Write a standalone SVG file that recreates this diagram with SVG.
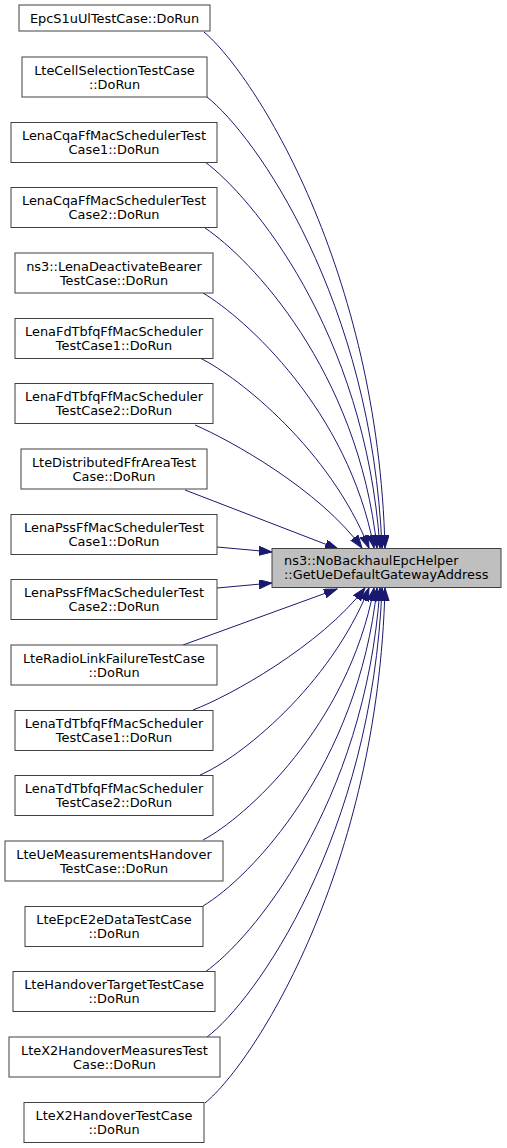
<svg xmlns="http://www.w3.org/2000/svg" width="507" height="1148" viewBox="0 0 507 1148">
<style>
  .node rect { fill: #ffffff; stroke: #404040; stroke-width: 1; }
  .target rect { fill: #bfbfbf; stroke: #404040; stroke-width: 1; }
  text { font-family: "DejaVu Sans", "Liberation Sans", sans-serif; font-size: 12.9px; fill: #000000; }
  .node text { text-anchor: middle; }
  .edges path { fill: none; stroke: #191970; stroke-width: 1; marker-end: url(#arrow); }
</style>
<defs>
  <marker id="arrow" markerUnits="userSpaceOnUse" markerWidth="14" markerHeight="10" refX="13" refY="4.5" orient="auto" viewBox="0 0 14 10">
    <polygon points="0,0 13,4.5 0,9" fill="#191970" stroke="#191970" stroke-width="1"/>
  </marker>
</defs>
<rect width="507" height="1148" fill="#ffffff"/>
<g class="edges" id="edges">
  <path d="M204,32 C255,75 378,270 385,548"/>
  <path d="M207,97 C255,135 372,300 382,548"/>
  <path d="M205,162 C250,195 365,330 380,548"/>
  <path d="M205,228 C250,258 358,370 377,548"/>
  <path d="M203,293 C245,318 348,410 374,548"/>
  <path d="M200,358 C240,378 330,450 369,548"/>
  <path d="M195,425 C230,440 320,490 362,548"/>
  <path d="M185,490 L338,549"/>
  <path d="M217,547 L272,552"/>
  <path d="M217,588 L272,583"/>
  <path d="M183,645 L337,589"/>
  <path d="M193,710 C230,696 320,646 365,588"/>
  <path d="M200,775 C240,758 330,686 369,588"/>
  <path d="M203,840 C245,818 348,726 374,588"/>
  <path d="M203,906 C250,878 358,766 377,588"/>
  <path d="M205,972 C250,941 365,806 380,588"/>
  <path d="M207,1037 C255,1001 372,836 382,588"/>
  <path d="M205,1103 C256,1061 378,866 385,588"/>
</g>
<g class="target" id="node0">
  <rect x="272" y="548.5" width="229" height="39"/>
  <text x="284" y="565">ns3::NoBackhaulEpcHelper</text>
  <text x="284" y="579">::GetUeDefaultGatewayAddress</text>
</g>
<g class="node" id="node1">
  <rect x="19" y="5" width="191" height="26"/>
  <text x="114.5" y="22.5">EpcS1uUlTestCase::DoRun</text>
</g>
<g class="node" id="node2">
  <rect x="22" y="57" width="185" height="40"/>
  <text x="114.5" y="74.5">LteCellSelectionTestCase</text>
  <text x="114.5" y="88.5">::DoRun</text>
</g>
<g class="node" id="node3">
  <rect x="11" y="122.5" width="206" height="40"/>
  <text x="114" y="140">LenaCqaFfMacSchedulerTest</text>
  <text x="114" y="154">Case1::DoRun</text>
</g>
<g class="node" id="node4">
  <rect x="11" y="187.5" width="206" height="40"/>
  <text x="114" y="205">LenaCqaFfMacSchedulerTest</text>
  <text x="114" y="219">Case2::DoRun</text>
</g>
<g class="node" id="node5">
  <rect x="15" y="253" width="198" height="40"/>
  <text x="114" y="270.5">ns3::LenaDeactivateBearer</text>
  <text x="114" y="284.5">TestCase::DoRun</text>
</g>
<g class="node" id="node6">
  <rect x="15" y="318.5" width="198" height="40"/>
  <text x="114" y="336">LenaFdTbfqFfMacScheduler</text>
  <text x="114" y="350">TestCase1::DoRun</text>
</g>
<g class="node" id="node7">
  <rect x="15" y="383.5" width="198" height="40"/>
  <text x="114" y="401">LenaFdTbfqFfMacScheduler</text>
  <text x="114" y="415">TestCase2::DoRun</text>
</g>
<g class="node" id="node8">
  <rect x="21" y="449" width="186" height="40"/>
  <text x="114" y="466.5">LteDistributedFfrAreaTest</text>
  <text x="114" y="480.5">Case::DoRun</text>
</g>
<g class="node" id="node9">
  <rect x="11" y="514.5" width="206" height="40"/>
  <text x="114" y="532">LenaPssFfMacSchedulerTest</text>
  <text x="114" y="546">Case1::DoRun</text>
</g>
<g class="node" id="node10">
  <rect x="11" y="579.5" width="206" height="40"/>
  <text x="114" y="597">LenaPssFfMacSchedulerTest</text>
  <text x="114" y="611">Case2::DoRun</text>
</g>
<g class="node" id="node11">
  <rect x="11" y="645" width="206" height="40"/>
  <text x="114" y="662.5">LteRadioLinkFailureTestCase</text>
  <text x="114" y="676.5">::DoRun</text>
</g>
<g class="node" id="node12">
  <rect x="15" y="710.5" width="198" height="40"/>
  <text x="114" y="728">LenaTdTbfqFfMacScheduler</text>
  <text x="114" y="742">TestCase1::DoRun</text>
</g>
<g class="node" id="node13">
  <rect x="15" y="775.5" width="198" height="40"/>
  <text x="114" y="793">LenaTdTbfqFfMacScheduler</text>
  <text x="114" y="807">TestCase2::DoRun</text>
</g>
<g class="node" id="node14">
  <rect x="5" y="841" width="218" height="40"/>
  <text x="114" y="858.5">LteUeMeasurementsHandover</text>
  <text x="114" y="872.5">TestCase::DoRun</text>
</g>
<g class="node" id="node15">
  <rect x="25" y="906.5" width="178" height="40"/>
  <text x="114" y="924">LteEpcE2eDataTestCase</text>
  <text x="114" y="938">::DoRun</text>
</g>
<g class="node" id="node16">
  <rect x="13" y="971.5" width="202" height="40"/>
  <text x="114" y="989">LteHandoverTargetTestCase</text>
  <text x="114" y="1003">::DoRun</text>
</g>
<g class="node" id="node17">
  <rect x="9" y="1037" width="211" height="40"/>
  <text x="114.5" y="1054.5">LteX2HandoverMeasuresTest</text>
  <text x="114.5" y="1068.5">Case::DoRun</text>
</g>
<g class="node" id="node18">
  <rect x="24" y="1102.5" width="180" height="40"/>
  <text x="114" y="1120">LteX2HandoverTestCase</text>
  <text x="114" y="1134">::DoRun</text>
</g>
</svg>
